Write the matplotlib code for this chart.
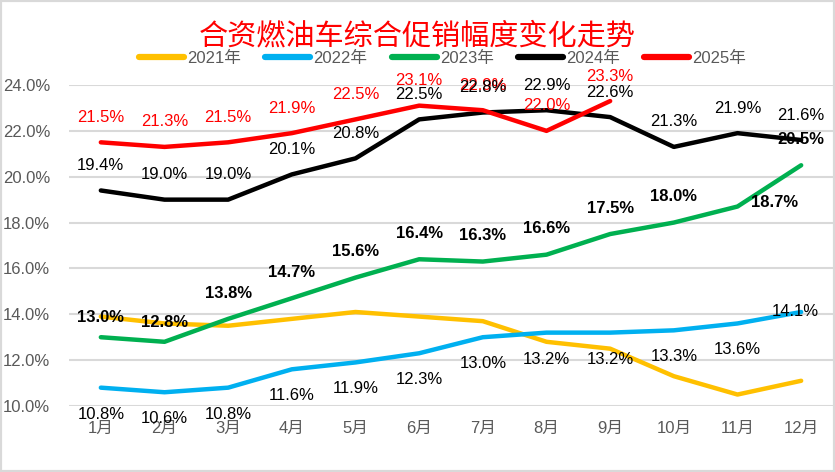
import matplotlib.pyplot as plt
from matplotlib.patches import Rectangle

plt.rcParams['font.family'] = ['Liberation Sans', 'Noto Sans CJK SC', 'DejaVu Sans']

months = ['1月', '2月', '3月', '4月', '5月', '6月', '7月', '8月', '9月', '10月', '11月', '12月']
y2021 = [13.9, 13.6, 13.5, 13.8, 14.1, 13.9, 13.7, 12.8, 12.5, 11.3, 10.5, 11.1]
y2022 = [10.8, 10.6, 10.8, 11.6, 11.9, 12.3, 13.0, 13.2, 13.2, 13.3, 13.6, 14.1]
y2023 = [13.0, 12.8, 13.8, 14.7, 15.6, 16.4, 16.3, 16.6, 17.5, 18.0, 18.7, 20.5]
y2024 = [19.4, 19.0, 19.0, 20.1, 20.8, 22.5, 22.8, 22.9, 22.6, 21.3, 21.9, 21.6]
y2025 = [21.5, 21.3, 21.5, 21.9, 22.5, 23.1, 22.9, 22.0, 23.3]
yticks = [10, 12, 14, 16, 18, 20, 22, 24]

fig = plt.figure(figsize=(8.35, 4.72), dpi=100)
ax = fig.add_axes([69 / 835, 66 / 472, 764 / 835, 321 / 472])

x = list(range(12))
ax.plot(x, y2021, color='#FFC000', lw=3.2, label='2021年', solid_capstyle='round')
ax.plot(x, y2022, color='#00B0F0', lw=3.2, label='2022年', solid_capstyle='round')
ax.plot(x, y2023, color='#00B050', lw=3.2, label='2023年', solid_capstyle='round')
ax.plot(x, y2024, color='#000000', lw=3.2, label='2024年', solid_capstyle='round')
ax.plot(x[:len(y2025)], y2025, color='#FF0000', lw=3.2, label='2025年', solid_capstyle='round')

fs = 12
# 2022 labels below the points
for i, v in enumerate(y2022):
    dx, dy = (0, -19) if i < 11 else (-4, 0)
    ax.annotate(f'{v:.1f}%', (i, v), xytext=(dx, dy), textcoords='offset points',
                ha='center', va='center', fontsize=fs, color='black', zorder=5)
# 2023 labels bold
for i, v in enumerate(y2023):
    if i < 2:
        dx, dy = 0, 14
    elif i == 10:
        dx, dy = 27, 3
    else:
        dx, dy = 0, 18.5
    ax.annotate(f'{v:.1f}%', (i, v), xytext=(dx, dy), textcoords='offset points',
                ha='center', va='center', fontsize=fs, color='black',
                fontweight='bold', zorder=5)
# 2025 labels red
for i, v in enumerate(y2025):
    ax.annotate(f'{v:.1f}%', (i, v), xytext=(0, 18), textcoords='offset points',
                ha='center', va='center', fontsize=fs, color='#FF0000', zorder=5)
# 2024 labels
for i, v in enumerate(y2024):
    ax.annotate(f'{v:.1f}%', (i, v), xytext=(0, 18), textcoords='offset points',
                ha='center', va='center', fontsize=fs, color='black', zorder=6)

ax.set_xlim(-0.5, 11.5)
ax.set_ylim(10, 24)
ax.set_xticks(x)
ax.set_xticklabels(months)
ax.set_yticks(yticks)
ax.set_yticklabels([f'{t:.1f}%' for t in yticks])
ax.tick_params(axis='both', length=0, labelsize=fs, labelcolor='#595959')
ax.tick_params(axis='x', pad=11)
ax.tick_params(axis='y', pad=13.5)
for s in ax.spines.values():
    s.set_visible(False)
ax.grid(True, axis='y', color='#D9D9D9', lw=1.5)
ax.set_axisbelow(True)

fig.text(0.5, 0.922, '合资燃油车综合促销幅度变化走势', ha='center', va='center',
         fontsize=21, color='#FF0000', family=['Noto Sans CJK SC'])
leg = fig.legend(loc='center', bbox_to_anchor=(0.53, 0.877), ncol=5, frameon=False,
                 fontsize=fs, handlelength=2.7, handletextpad=0.2, columnspacing=1.45,
                 labelcolor='#595959')
for h in leg.get_lines():
    h.set_linewidth(4.5)
    h.set_solid_capstyle('round')

fig.patches.append(Rectangle((0, 0), 1, 1, transform=fig.transFigure, fill=False,
                             edgecolor='#D9D9D9', lw=3, zorder=10))

fig.savefig('out.png', dpi=100)
